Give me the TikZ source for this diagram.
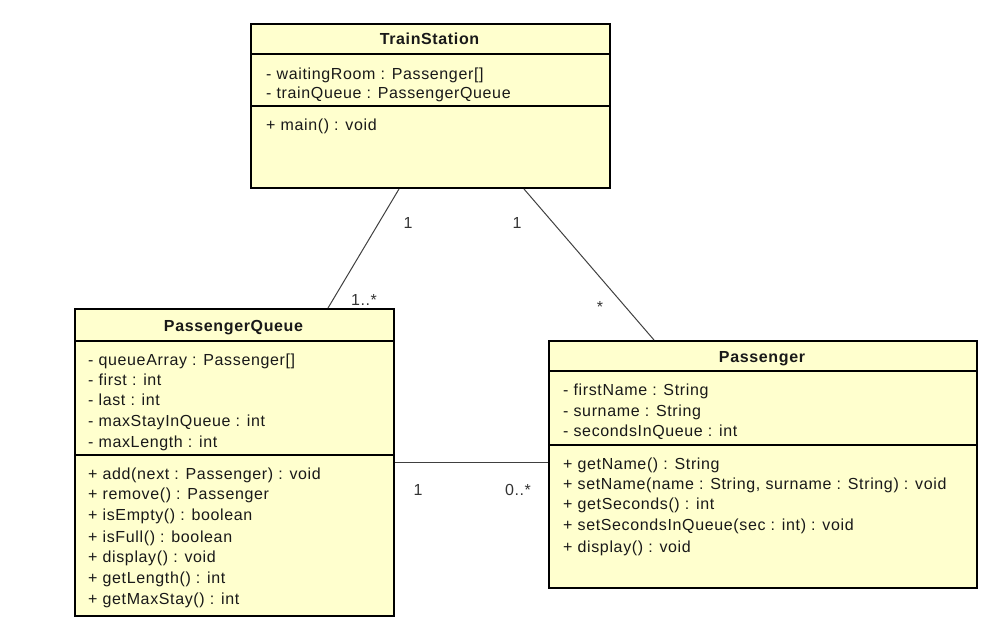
\documentclass[tikz,border=0pt]{standalone}
\usepackage{fontspec}
\setmainfont{Liberation Sans}[LetterSpace=4]
\definecolor{clsfill}{RGB}{255,255,206}
\definecolor{linegray}{RGB}{64,64,64}
\definecolor{multgray}{RGB}{51,51,51}
\begin{document}
\begin{tikzpicture}[x=1pt,y=-1pt,
  cls/.style={draw=black, line width=2pt, fill=clsfill, inner sep=0pt, anchor=north west},
  sepline/.style={line width=1.3pt},
  txt/.style={anchor=mid west, inner sep=0pt, yshift=-3pt, font=\fontsize{16}{19}\selectfont, text=black!90},
  ttl/.style={anchor=mid, inner sep=0pt, yshift=-2pt, font=\fontsize{16}{19}\selectfont\bfseries, text=black!90},
  conn/.style={draw=linegray, line width=1pt},
  mult/.style={inner sep=0pt, font=\fontsize{16}{19}\selectfont, text=multgray}]
\useasboundingbox (0,0) rectangle (999,625);

% ---------- TrainStation ----------
\node[cls, minimum width=359pt, minimum height=164pt] (ts) at (250,23) {};
\draw[sepline] ([yshift=-31pt]ts.north west) -- ([yshift=-31pt]ts.north east);
\draw[sepline] ([yshift=-83pt]ts.north west) -- ([yshift=-83pt]ts.north east);
\node[ttl] (tsT) at (429.5,40) {TrainStation};
\node[txt] (tsA1) at (266,74) {- waitingRoom : Passenger[]};
\node[txt] (tsA2) at (266,93) {- trainQueue : PassengerQueue};
\node[txt] (tsM1) at (266,125) {+ main() : void};

% ---------- PassengerQueue ----------
\node[cls, minimum width=319pt, minimum height=307pt] (pq) at (74,308) {};
\draw[sepline] ([yshift=-33pt]pq.north west) -- ([yshift=-33pt]pq.north east);
\draw[sepline] ([yshift=-147pt]pq.north west) -- ([yshift=-147pt]pq.north east);
\node[ttl] (pqT) at (233.5,327) {PassengerQueue};
\node[txt] (pqA1) at (88,360) {- queueArray : Passenger[]};
\node[txt] (pqA2) at (88,380) {- first : int};
\node[txt] (pqA3) at (88,400) {- last : int};
\node[txt] (pqA4) at (88,421) {- maxStayInQueue : int};
\node[txt] (pqA5) at (88,442) {- maxLength : int};
\node[txt] (pqM1) at (88,474) {+ add(next : Passenger) : void};
\node[txt] (pqM2) at (88,494) {+ remove() : Passenger};
\node[txt] (pqM3) at (88,515) {+ isEmpty() : boolean};
\node[txt] (pqM4) at (88,537) {+ isFull() : boolean};
\node[txt] (pqM5) at (88,557) {+ display() : void};
\node[txt] (pqM6) at (88,578) {+ getLength() : int};
\node[txt] (pqM7) at (88,599) {+ getMaxStay() : int};

% ---------- Passenger ----------
\node[cls, minimum width=428pt, minimum height=247pt] (p) at (548,340) {};
\draw[sepline] ([yshift=-31pt]p.north west) -- ([yshift=-31pt]p.north east);
\draw[sepline] ([yshift=-105pt]p.north west) -- ([yshift=-105pt]p.north east);
\node[ttl] (pT) at (762,358) {Passenger};
\node[txt] (pA1) at (563,390) {- firstName : String};
\node[txt] (pA2) at (563,411) {- surname : String};
\node[txt] (pA3) at (563,431) {- secondsInQueue : int};
\node[txt] (pM1) at (563,464) {+ getName() : String};
\node[txt] (pM2) at (563,484) {+ setName(name : String, surname : String) : void};
\node[txt] (pM3) at (563,504) {+ getSeconds() : int};
\node[txt] (pM4) at (563,525) {+ setSecondsInQueue(sec : int) : void};
\node[txt] (pM5) at (563,547) {+ display() : void};

% ---------- connectors ----------
\draw[conn] ([xshift=149pt]ts.south west) -- ([xshift=254pt]pq.north west);
\draw[conn] ([xshift=274pt]ts.south west) -- ([xshift=106pt]p.north west);
\coordinate (pqR) at ([yshift=-154pt]pq.north east);
\draw[conn] (pqR) -- (pqR -| p.west);

% ---------- multiplicities ----------
\node[mult] (m1) at (408,223) {1};
\node[mult] (m2) at (517,223) {1};
\node[mult] (m3) at (364,300) {1..*};
\node[mult] (m4) at (600,307) {*};
\node[mult] (m5) at (418,490) {1};
\node[mult] (m6) at (518,490) {0..*};
\end{tikzpicture}
\end{document}
